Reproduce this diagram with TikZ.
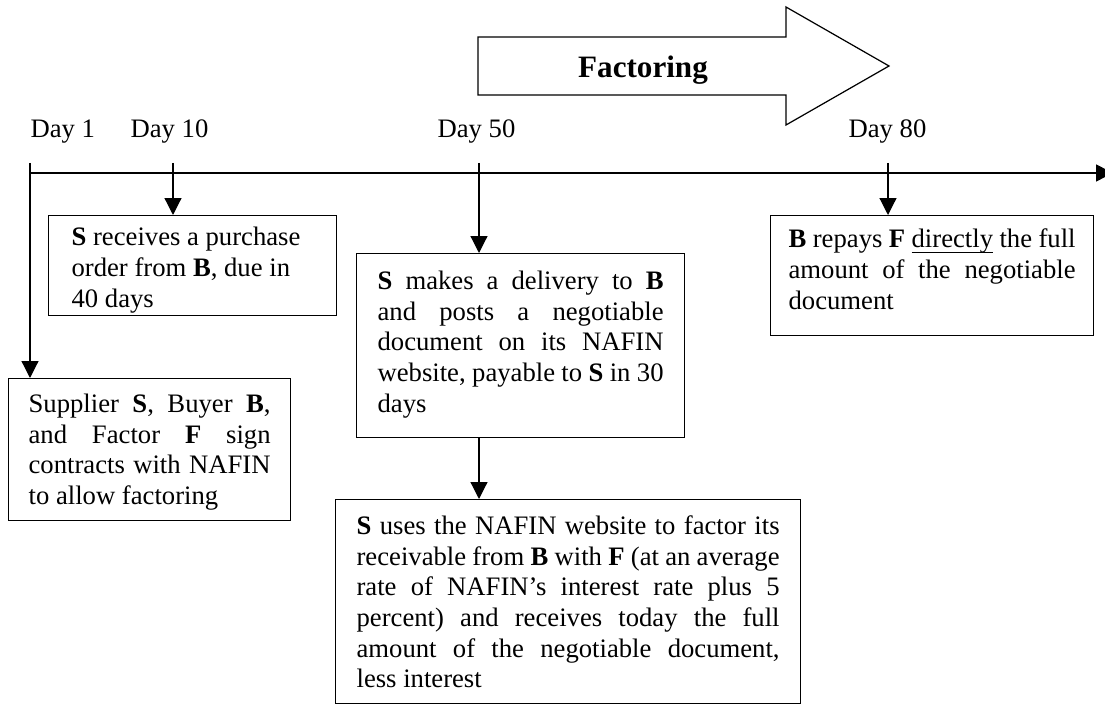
\documentclass[tikz,border=0pt]{standalone}
\usepackage{fontspec}
\setmainfont{Liberation Serif}
\usetikzlibrary{arrows.meta,positioning}

% short underline that sits just under the baseline
\newcommand{\lowline}[1]{\setbox0\hbox{#1}\rlap{\rule[-2.2pt]{\wd0}{0.5pt}}#1}

\begin{document}
\begin{tikzpicture}[
    x = 0.45pt, y = -0.45pt, % one unit is one pixel of the layout
    > = {Triangle[length=7.6pt,width=7.6pt]}, % arrow head style
    line width = 0.55pt, % line style
    font = \fontsize{12}{13.8}\selectfont
    ]

    \tikzset{evbox/.style={
    draw = black,
    anchor = north west,
    inner ysep = 0pt,
    inner xsep = 9.45pt
    }}
    \useasboundingbox (0,0) rectangle (1105,704);

    % day labels and ticks
    \node[anchor=base west, inner sep=0pt] (d1) at (30,138) {Day 1};
    \node[anchor=base west, inner sep=0pt] (d10) at (130,138) {Day 10};
    \node[anchor=base west, inner sep=0pt] (d50) at (437,138) {Day 50};
    \node[anchor=base west, inner sep=0pt] (d80) at (848,138) {Day 80};
    \coordinate (t1) at (30,163);
    \coordinate (t10) at (173,163);
    \coordinate (t50) at (479,163);
    \coordinate (t80) at (888,163);
    \coordinate (start) at (30,173);
    \coordinate (stop) at (1113,173);

    % factoring arrow
    \draw (478,37) -- (786,37) -- (786,7) -- (889,66) -- (786,125) -- (786,95) -- (478,95) -- cycle;
    \node[anchor=base, font=\bfseries\fontsize{14}{16}\selectfont] (fact) at (643,78) {Factoring};

    % event boxes
    \node[evbox, inner xsep=9pt] (b1) at (8,378) {\parbox[c][63.9pt][t]{108.9pt}{\vspace*{5.6pt}\noindent\strut
    Supplier \textbf{S}, Buyer \textbf{B},\linebreak and Factor \textbf{F} sign\linebreak contracts with NAFIN\linebreak to allow factoring}};
    \node[evbox, inner xsep=10.35pt] (b10) at (48,215) {\parbox[c][45pt][t]{108.9pt}{\raggedright\vspace*{4pt}\noindent\strut
    \textbf{S} receives a purchase\\ order from \textbf{B}, due in\\ 40 days}};
    \node[evbox] (b50) at (356,253) {\parbox[c][82.8pt][t]{128.7pt}{\vspace*{6.5pt}\noindent\strut
    \textbf{S} makes a delivery to \textbf{B}\linebreak and posts a negotiable\linebreak document on its NAFIN\linebreak website, payable to \textbf{S} in 30\linebreak days}};
    \node[evbox] (bf) at (335,499) {\parbox[c][91.8pt][t]{190.35pt}{\vspace*{6pt}\noindent\strut
    \textbf{S} uses the NAFIN website to factor its\linebreak receivable from \textbf{B} with \textbf{F} (at an average\linebreak rate of NAFIN's interest rate plus 5\linebreak percent) and receives today the full\linebreak amount of the negotiable document,\linebreak less interest}};
    \node[evbox, inner xsep=8.1pt] (b80) at (770,215) {\parbox[c][54pt][t]{129.15pt}{\vspace*{4.8pt}\noindent\strut
    \textbf{B} repays \textbf{F} \lowline{directly} the full\linebreak amount of the negotiable\linebreak document}};

    % time line and arrows
    \draw[->, line width=0.65pt] (start) -- (stop);
    \draw[->] (t1) -- (t1 |- b1.north);
    \draw[->] (t10) -- (t10 |- b10.north);
    \draw[->] (t50) -- (t50 |- b50.north);
    \draw[->] (t80) -- (t80 |- b80.north);
    \draw[->] (t50 |- b50.south) -- (t50 |- bf.north);
\end{tikzpicture}
\end{document}
